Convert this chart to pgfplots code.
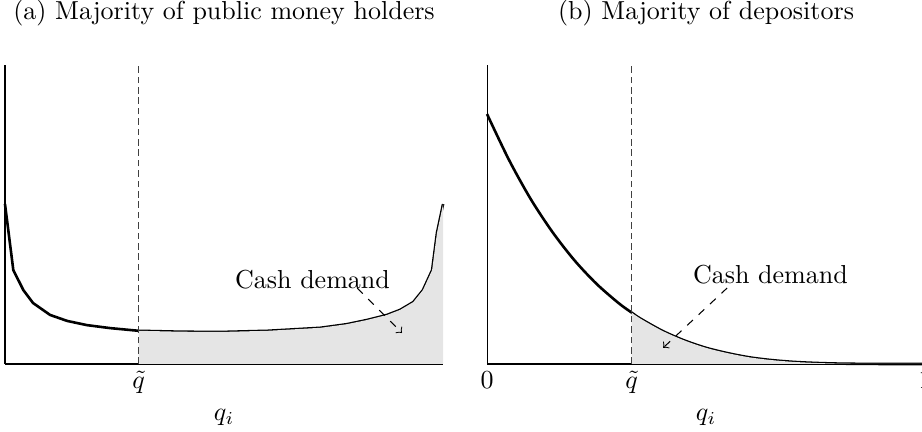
\documentclass[border=0pt]{standalone}
\usepackage{pgfplots}
\pgfplotsset{compat=1.18}
\usepackage{pgfplotstable}

% left panel: U-shaped density
\pgfplotstableread{
x y
0 0.535
0.019 0.314
0.042 0.247
0.064 0.204
0.103 0.164
0.142 0.144
0.187 0.130
0.240 0.120
0.305 0.111
0.40 0.108
0.49 0.107
0.60 0.111
0.72 0.121
0.78 0.133
0.826 0.147
0.872 0.164
0.902 0.181
0.932 0.207
0.954 0.247
0.975 0.314
0.986 0.438
1.0 0.535
}\leftdata

% right panel: decreasing density
\pgfplotstableread{
x y
0 0.836
0.05 0.683
0.10 0.551
0.15 0.440
0.20 0.346
0.25 0.268
0.30 0.204
0.33 0.172
0.35 0.152
0.40 0.111
0.45 0.079
0.50 0.054
0.55 0.036
0.60 0.022
0.65 0.013
0.70 0.007
0.75 0.0035
0.80 0.0014
0.85 0.0005
0.90 0.0001
1.0 0.0
}\rightdata

\pgfplotsset{
  panel/.style={
    scale only axis,
    width=168.5pt, height=115pt,
    xmin=0, xmax=1, ymin=0, ymax=1,
    axis lines=left,
    axis line style={-},
    ytick=\empty,
    major tick length=0pt,
    xticklabel style={anchor=base, yshift=-9.6pt},
    xlabel={$q_i$},
    xlabel style={at={(axis description cs:0.5,0)}, anchor=base, yshift=-21.9pt},
    title style={at={(axis description cs:0.5,1)}, anchor=base, yshift=11.5pt},
    clip=false,
  },
  qline/.style={black!75, dash pattern=on 2.5pt off 1.5pt},
}

\begin{document}
\begin{tikzpicture}
\begin{axis}[panel, at={(0,0)}, anchor=south west,
    title={(a) Majority of public money holders},
    xtick={0.305}, xticklabels={$\tilde q$}]
  \addplot[black, line width=1pt] table {\leftdata};
  \addplot[draw=none, fill=gray!20, restrict x to domain=0.3:1] table {\leftdata} \closedcycle;
  \addplot[qline] coordinates {(0.305,0) (0.305,1)};
  \node[anchor=base] at (axis cs:0.702,0.251) {Cash demand};
  \draw[dashed, ->] (axis cs:0.804,0.254) -- (axis cs:0.906,0.104);
\end{axis}

\begin{axis}[panel, at={(185.4pt,0)}, anchor=south west,
    title={(b) Majority of depositors},
    xtick={0,0.33,1}, xticklabels={$0$,$\tilde q$,$1$}]
  \addplot[black, line width=1pt, smooth] table {\rightdata};
  \addplot[draw=none, fill=gray!20, smooth, restrict x to domain=0.32:1] table {\rightdata} \closedcycle;
  \addplot[qline] coordinates {(0.33,0) (0.33,1)};
  \node[anchor=base] at (axis cs:0.647,0.268) {Cash demand};
  \draw[dashed, ->] (axis cs:0.548,0.254) -- (axis cs:0.402,0.054);
\end{axis}
\pgfresetboundingbox
\path (-1.92pt,-25.8pt) rectangle (352.7pt,140pt);
\end{tikzpicture}
\end{document}
